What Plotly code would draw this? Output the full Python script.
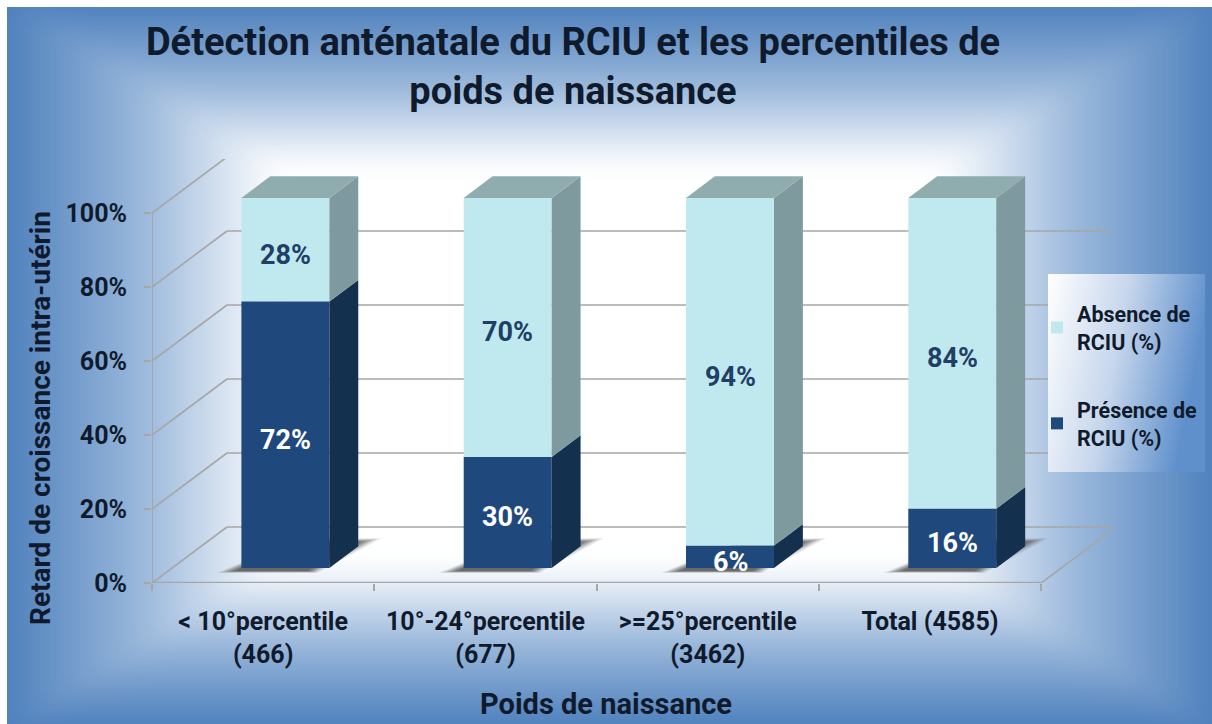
import base64
import plotly.graph_objects as go

# ---- data ----
categories = ["< 10°percentile<br>(466)", "10°-24°percentile<br>(677)", ">=25°percentile<br>(3462)", "Total (4585)"]
presence = [72, 30, 6, 16]
absence = [28, 70, 94, 84]
y_ticks = [0, 20, 40, 60, 80, 100]
y_tick_labels = ["0%", "20%", "40%", "60%", "80%", "100%"]
title_text = "<b>Détection anténatale du RCIU et les percentiles de<br>poids de naissance</b>"
x_title = "<b>Poids de naissance</b>"
y_title = "<b>Retard de croissance intra-utérin</b>"
name_presence = "<b>Présence de<br>RCIU (%)</b>"
name_absence = "<b>Absence de<br>RCIU (%)</b>"

# ---- styling / projection ----
W, H = 1212, 724
L, R, T, B = 152, 1113, 159, 583
PX_PER_CAT = 222.3
PX_PER_PCT = 3.7
DEPTH_X = 75 / PX_PER_CAT      # full chart depth in category units
DEPTH_Y = 56 / PX_PER_PCT      # full chart depth in percent units
F0, F1 = 0.27, 0.655           # bar front / back depth fraction
BAR_W = 88 / PX_PER_CAT
BAR_DX = 2 / PX_PER_CAT
XMIN = -0.5
XMAX = XMIN + (R - L) / PX_PER_CAT
YMAX = (B - T) / PX_PER_PCT
XFRONT = XMIN + len(categories)

FONT = "Roboto, Liberation Sans, Arial, sans-serif"
DARK = "#1F497D"; DARK_SIDE = "#14304F"
LIGHT = "#BFE9EF"; LIGHT_SIDE = "#7E9A9E"; LIGHT_TOP = "#8FACAE"
TXT = "#0F1B2D"; GRID = "#A6A6A6"; LABEL = "#1F3F66"


def P(x, y, depth):
    return x + depth * DEPTH_X, y + depth * DEPTH_Y


def svg_uri(svg):
    return "data:image/svg+xml;base64," + base64.b64encode(svg.encode()).decode()


def background_svg():
    x0, y0, x1, y1 = 7, 7, 1212, 724
    cx, cy = (x0 + x1) / 2, (y0 + y1) / 2
    s = 0.55
    ix0, ix1 = cx - (cx - x0) * s, cx + (x1 - cx) * s
    iy0, iy1 = cy - (cy - y0) * s, cy + (y1 - cy) * s
    stops = ('<stop offset="0" stop-color="#4F81BD"/><stop offset="0.5" stop-color="#9AB8DB"/>'
             '<stop offset="1" stop-color="#FFFFFF"/>')
    grad = lambda n, a, b, c, d: (f'<linearGradient id="{n}" gradientUnits="userSpaceOnUse" '
                                  f'x1="{a}" y1="{b}" x2="{c}" y2="{d}">{stops}</linearGradient>')
    xo0, yo0, xo1, yo1 = x0 - 40, y0 - 40, x1 + 40, y1 + 40
    return (f'<svg xmlns="http://www.w3.org/2000/svg" width="{W}" height="{H}" viewBox="0 0 {W} {H}">'
            f'<defs>{grad("l", x0, 0, ix0, 0)}{grad("r", x1, 0, ix1, 0)}'
            f'{grad("t", 0, y0, 0, iy0)}{grad("b", 0, y1, 0, iy1)}'
            f'<filter id="blur" x="-10%" y="-10%" width="120%" height="120%"><feGaussianBlur stdDeviation="12"/></filter>'
            f'<clipPath id="frame"><rect x="{x0}" y="{y0}" width="{x1-x0}" height="{y1-y0}"/></clipPath></defs>'
            f'<rect width="{W}" height="{H}" fill="#FFFFFF"/>'
            f'<g clip-path="url(#frame)"><rect x="{x0}" y="{y0}" width="{x1-x0}" height="{y1-y0}" fill="#4F81BD"/>'
            f'<g filter="url(#blur)">'
            f'<polygon fill="url(#l)" points="{xo0},{yo0} {cx},{cy} {xo0},{yo1}"/>'
            f'<polygon fill="url(#r)" points="{xo1},{yo0} {cx},{cy} {xo1},{yo1}"/>'
            f'<polygon fill="url(#t)" points="{xo0},{yo0} {xo1},{yo0} {cx},{cy}"/>'
            f'<polygon fill="url(#b)" points="{xo0},{yo1} {xo1},{yo1} {cx},{cy}"/>'
            f'<rect x="{ix0}" y="{iy0}" width="{ix1-ix0}" height="{iy1-iy0}" fill="#FFFFFF"/>'
            '</g></g></svg>')


def legend_svg():
    return ('<svg xmlns="http://www.w3.org/2000/svg" width="157" height="198" viewBox="0 0 157 198">'
            '<defs><linearGradient id="g" x1="0" y1="0" x2="1" y2="0.25">'
            '<stop offset="0" stop-color="#FFFFFF"/><stop offset="0.5" stop-color="#C6D6EC"/>'
            '<stop offset="1" stop-color="#5F90CC"/></linearGradient></defs>'
            '<rect width="157" height="198" fill="url(#g)"/></svg>')


fx = lambda px: (px - L) / (R - L)
fy = lambda py: (B - py) / (B - T)

fig = go.Figure()

# front faces
for vals, bases, name, col in [
    (absence, presence, name_absence, LIGHT),
    (presence, [0] * 4, name_presence, DARK),
]:
    fig.add_bar(
        x=[P(i, 0, F0)[0] + BAR_DX for i in range(len(categories))],
        y=vals,
        base=[P(0, b, F0)[1] for b in bases],
        width=BAR_W, name=name, marker=dict(color=col, line=dict(width=0)),
        legendgroup=name, hoverinfo="skip",
    )

# side and top faces
for i in range(len(categories)):
    xr = P(i, 0, F0)[0] + BAR_DX + BAR_W / 2
    xl = xr - BAR_W
    dx = (F1 - F0) * DEPTH_X
    dy = (F1 - F0) * DEPTH_Y
    y0 = P(0, 0, F0)[1]
    for b, v, col in [(0, presence[i], DARK_SIDE), (presence[i], absence[i], LIGHT_SIDE)]:
        fig.add_scatter(x=[xr, xr, xr + dx, xr + dx, xr], y=[y0 + b, y0 + b + v, y0 + b + v + dy, y0 + b + dy, y0 + b],
                        mode="lines", fill="toself", fillcolor=col, line=dict(width=0),
                        showlegend=False, hoverinfo="skip")
    top = y0 + presence[i] + absence[i]
    fig.add_scatter(x=[xl, xr, xr + dx, xl + dx, xl], y=[top, top, top + dy, top + dy, top],
                    mode="lines", fill="toself", fillcolor=LIGHT_TOP, line=dict(width=0),
                    showlegend=False, hoverinfo="skip")

# chart-frame lines, drawn below the bars
shapes = []
line = lambda a, b, w=1.6: dict(type="line", xref="x", yref="y", layer="below", x0=a[0], y0=a[1], x1=b[0], y1=b[1],
                                line=dict(color=GRID, width=w))
for t in y_ticks:
    shapes.append(line(P(XMIN, t, 0), P(XMIN, t, 1)))
    shapes.append(line(P(XMIN, t, 1), P(XFRONT, t, 1)))
shapes.append(line(P(XFRONT, 0, 0), P(XFRONT, 0, 1)))
shapes.append(line(P(XMIN, 0, 0), P(XFRONT, 0, 0), 2.4))
shapes.append(line(P(XMIN, 0, 0), P(XMIN, 100, 0), 2))

# bar shadows on the floor, several soft layers
for i in range(len(categories)):
    for k, op in [(1.0, 0.14), (0.85, 0.2), (0.7, 0.28), (0.55, 0.35), (0.4, 0.42), (0.25, 0.5)]:
        a0 = 0.18 + 0.05 * (1 - k)
        a1 = 0.80 - 0.10 * (1 - k)
        off_l = (-60 + 22 * (1 - k)) / PX_PER_CAT
        off_r = (58 - 24 * (1 - k)) / PX_PER_CAT
        pts = [P(i + off_l, 0, a0), P(i + off_r * 0.7, 0, a0), P(i + off_r, 0, a1), P(i + off_l * 0.4, 0, a1)]
        path = "M" + " L".join(f"{p[0]},{p[1]}" for p in pts) + " Z"
        shapes.append(dict(type="path", xref="x", yref="y", layer="below", path=path,
                           fillcolor="#5A5A5A", opacity=op, line=dict(width=0)))

# value labels
ann = []
for i in range(len(categories)):
    y0 = P(0, 0, F0)[1]
    xc = P(i, 0, F0)[0] + BAR_DX
    ann.append(dict(x=xc, y=y0 + presence[i] / 2, text=f"<b>{presence[i]}%</b>", xref="x", yref="y",
                    showarrow=False, yshift=-5, font=dict(family=FONT, size=27, color="#FFFFFF")))
    ann.append(dict(x=xc, y=y0 + presence[i] + absence[i] / 2, text=f"<b>{absence[i]}%</b>", xref="x", yref="y",
                    showarrow=False, yshift=-5, font=dict(family=FONT, size=27, color=LABEL)))
ann.append(dict(x=fx(606), y=fy(704), xref="paper", yref="paper", xanchor="center", yanchor="middle",
                text=x_title, showarrow=False, font=dict(family=FONT, size=29, color=TXT)))
ann.append(dict(x=fx(40), y=fy(418), xref="paper", yref="paper", xanchor="center", yanchor="middle",
                text=y_title, showarrow=False, textangle=-90, font=dict(family=FONT, size=28, color=TXT)))

fig.update_layout(
    width=W, height=H, autosize=False,
    margin=dict(l=L, r=W - R, t=T, b=H - B, pad=0, autoexpand=False),
    paper_bgcolor="rgba(0,0,0,0)", plot_bgcolor="rgba(0,0,0,0)",
    barmode="overlay", shapes=shapes, annotations=ann,
    title=dict(text=title_text, x=573 / W, xanchor="center", y=1 - 55 / H, yanchor="middle",
               font=dict(family=FONT, size=38, color=TXT)),
    xaxis=dict(range=[XMIN, XMAX], tickmode="array", tickvals=list(range(len(categories))),
               ticktext=[f"<b>{c.replace('<br>', '</b><br><b>')}</b>" for c in categories],
               showgrid=False, zeroline=False, showline=False, ticks="", ticklabelstandoff=21,
               tickfont=dict(family=FONT, size=25, color=TXT),
               minor=dict(tickmode="array", tickvals=[XMIN + k for k in range(len(categories) + 1)],
                          ticks="outside", ticklen=7, tickcolor=GRID, tickwidth=1.6, showgrid=False)),
    yaxis=dict(range=[0, YMAX], tickmode="array", tickvals=y_ticks, ticktext=[f"<b>{s}</b>" for s in y_tick_labels],
               showgrid=False, zeroline=False, showline=False, ticks="outside", ticklen=7, tickcolor=GRID, tickwidth=1.6,
               ticklabelstandoff=12, tickfont=dict(family=FONT, size=25, color=TXT)),
    legend=dict(x=fx(1037), y=fy(293), xanchor="left", yanchor="top", traceorder="grouped",
                tracegroupgap=37, bgcolor="rgba(0,0,0,0)", borderwidth=0, itemwidth=30,
                font=dict(family=FONT, size=21.5, color=TXT), itemclick=False, itemdoubleclick=False),
    images=[
        dict(source=svg_uri(background_svg()), xref="paper", yref="paper", x=-L / (R - L), y=1 + T / (B - T),
             sizex=W / (R - L), sizey=H / (B - T), xanchor="left", yanchor="top", sizing="stretch", layer="below"),
        dict(source=svg_uri(legend_svg()), xref="paper", yref="paper", x=fx(1048), y=fy(274),
             sizex=157 / (R - L), sizey=198 / (B - T), xanchor="left", yanchor="top", sizing="stretch", layer="above"),
    ],
)

fig.write_html("out.html", config=dict(displayModeBar=False, responsive=False),
               post_script='document.body.style.margin="0";document.body.style.overflow="hidden";')
